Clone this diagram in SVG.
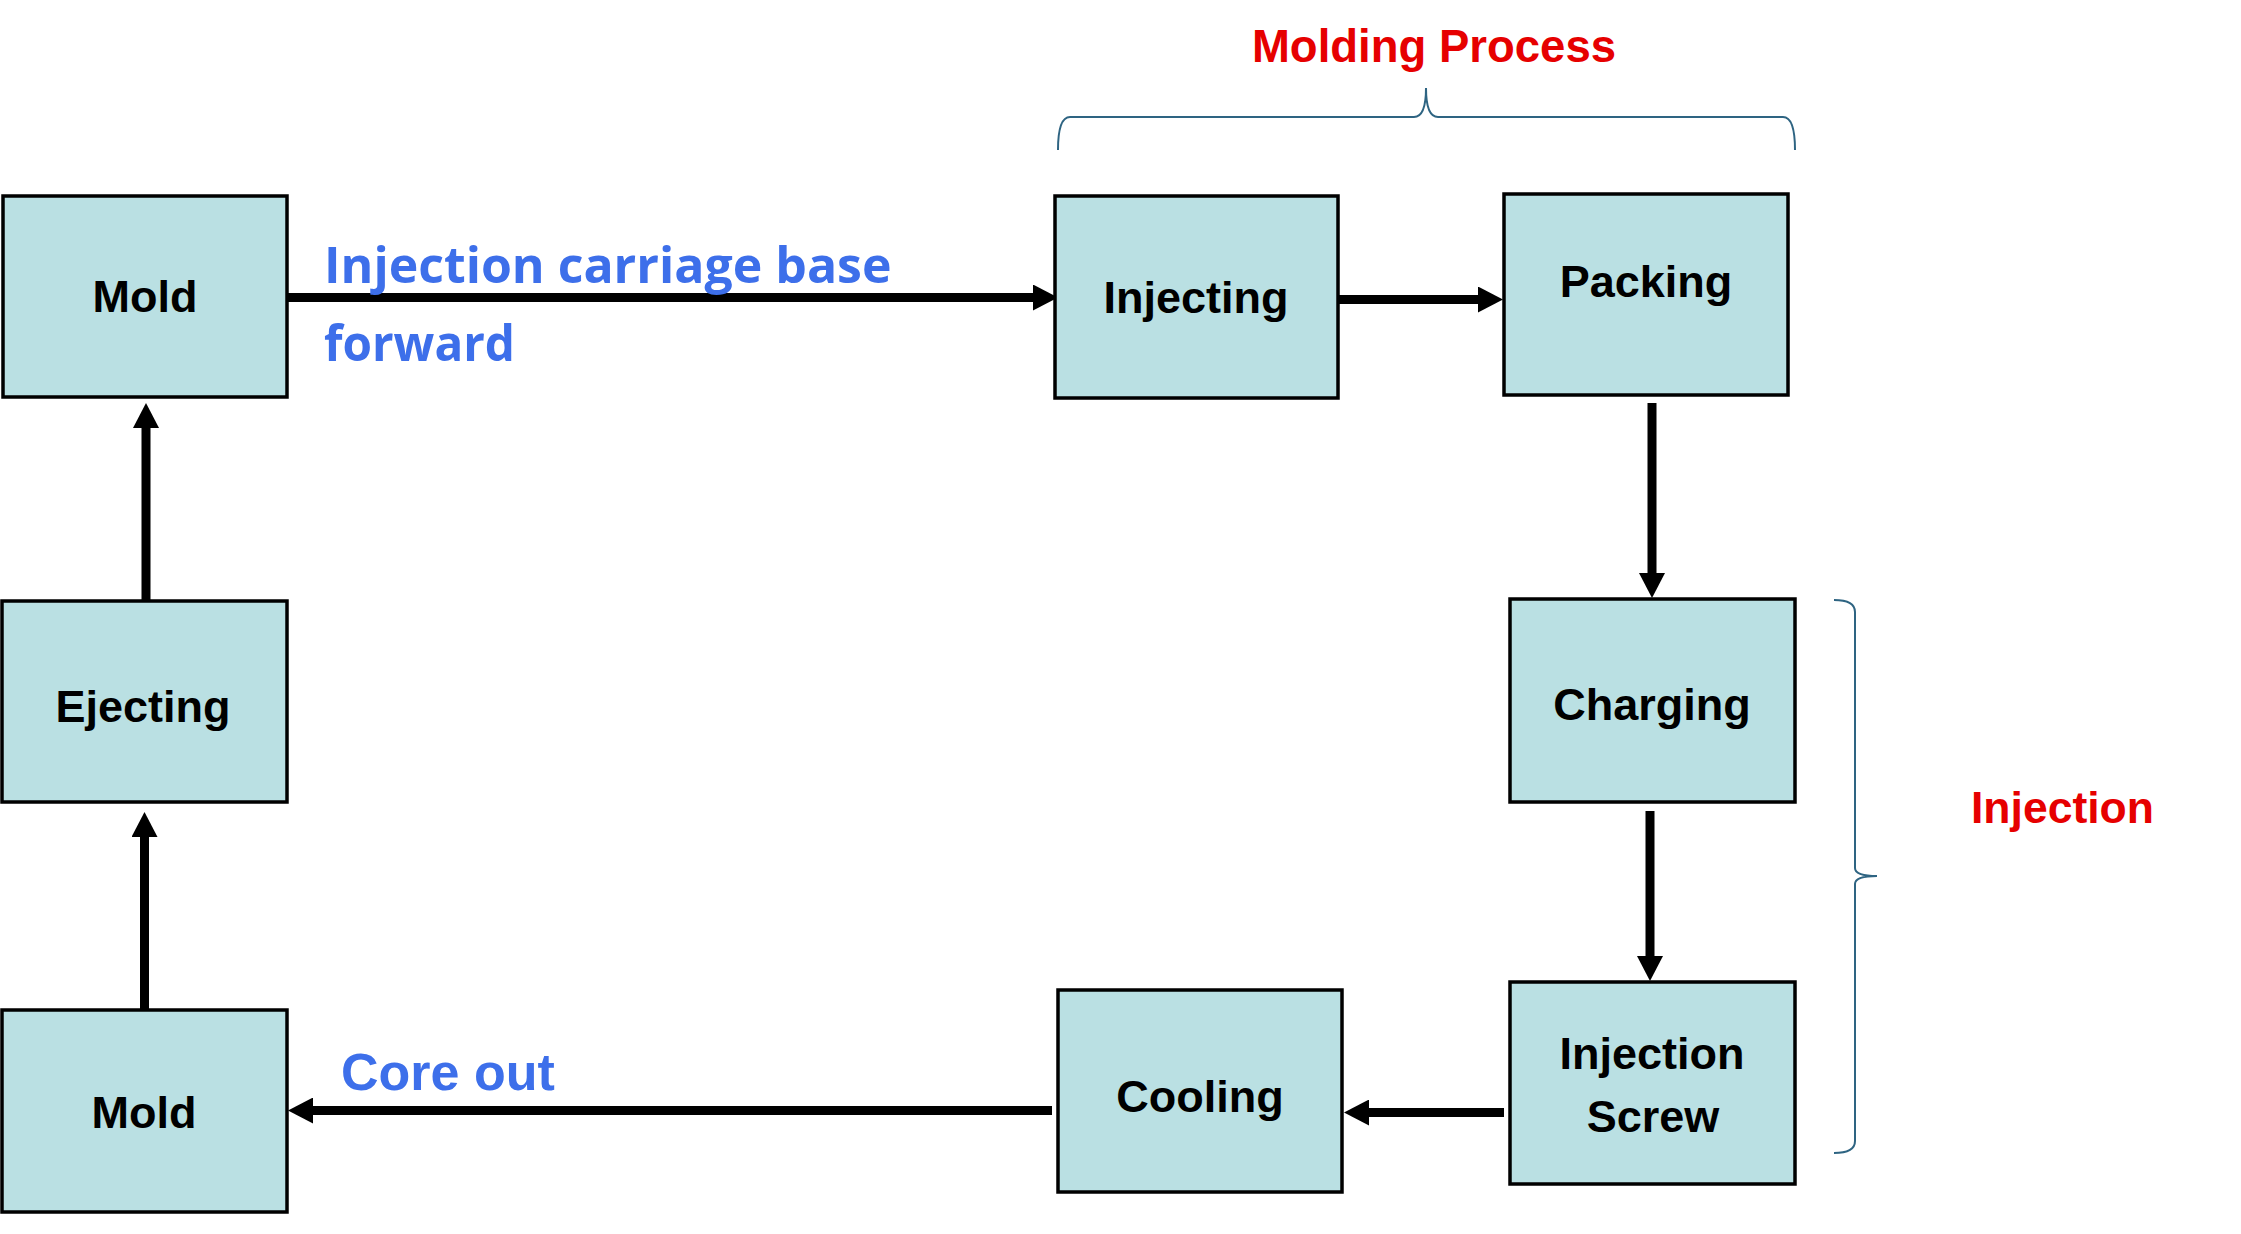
<svg xmlns="http://www.w3.org/2000/svg" width="2241" height="1234" viewBox="0 0 2241 1234">
<defs>
<style>
.box{fill:#BAE0E3;stroke:#000;stroke-width:3.5}
.nt{font-family:"Liberation Sans",Arial,sans-serif;font-weight:bold;font-size:45px;fill:#000;text-anchor:middle}
.red{font-family:"Liberation Sans",Arial,sans-serif;font-weight:bold;font-size:44.5px;fill:#E60000}
.blue{font-family:"Open Sans","Liberation Sans",sans-serif;font-weight:bold;font-size:50px;fill:#3D6FEA}
.blue2{font-family:"Liberation Sans",Arial,sans-serif;font-weight:bold;font-size:52px;fill:#3D6FEA}
.conn{stroke:#000;stroke-width:9;fill:none;marker-end:url(#ah)}
.brace{stroke:#2E6482;stroke-width:2;fill:none}
</style>
<marker id="ah" markerUnits="userSpaceOnUse" markerWidth="25" markerHeight="26" viewBox="0 0 25 26" refX="5" refY="13" orient="auto">
<path d="M0,0 L25,13 L0,26 z" fill="#000"/>
</marker>
</defs>
<rect width="2241" height="1234" fill="#fff"/>

<g id="connectors">
<path class="conn" d="M287,297.5 H1038"/>
<path class="conn" d="M1339,299.5 H1483"/>
<path class="conn" d="M1652,403 V578"/>
<path class="conn" d="M1650,811 V961"/>
<path class="conn" d="M1504,1112.5 H1364"/>
<path class="conn" d="M1052,1110.5 H308"/>
<path class="conn" d="M144.5,1009 V832"/>
<path class="conn" d="M146,600 V423"/>
</g>

<g id="node-mold-top">
<rect class="box" x="3" y="196" width="284" height="201"/>
<text class="nt" x="145" y="312">Mold</text>
</g>
<g id="node-injecting">
<rect class="box" x="1055" y="196" width="283" height="202"/>
<text class="nt" x="1196" y="313">Injecting</text>
</g>
<g id="node-packing">
<rect class="box" x="1504" y="194" width="284" height="201"/>
<text class="nt" x="1646" y="297">Packing</text>
</g>
<g id="node-charging">
<rect class="box" x="1510" y="599" width="285" height="203"/>
<text class="nt" x="1652" y="720">Charging</text>
</g>
<g id="node-injection-screw">
<rect class="box" x="1510" y="982" width="285" height="202"/>
<text class="nt" x="1652" y="1069">Injection</text>
<text class="nt" x="1653" y="1132">Screw</text>
</g>
<g id="node-cooling">
<rect class="box" x="1058" y="990" width="284" height="202"/>
<text class="nt" x="1200" y="1112">Cooling</text>
</g>
<g id="node-mold-bottom">
<rect class="box" x="2" y="1010" width="285" height="202"/>
<text class="nt" x="144" y="1128">Mold</text>
</g>
<g id="node-ejecting">
<rect class="box" x="2" y="601" width="285" height="201"/>
<text class="nt" x="143" y="722">Ejecting</text>
</g>

<g id="labels">
<text class="blue" x="324" y="283">Injection carriage base</text>
<text class="blue" x="324" y="361" textLength="191" lengthAdjust="spacingAndGlyphs">forward</text>
<text class="blue2" x="341" y="1090">Core out</text>
</g>

<g id="group-molding-process">
<path class="brace" d="M1058,150 Q1058,117 1070,117 H1414 Q1426,117 1426,88 Q1426,117 1438,117 H1783 Q1795,117 1795,150"/>
<text class="red" x="1434" y="62" text-anchor="middle" style="font-size:45.5px">Molding Process</text>
</g>
<g id="group-injection">
<path class="brace" d="M1834,600 Q1855,600 1855,612 V868 Q1855,876 1877,876 Q1855,876 1855,884 V1141 Q1855,1153 1834,1153"/>
<text class="red" x="1971" y="823">Injection</text>
</g>
</svg>
